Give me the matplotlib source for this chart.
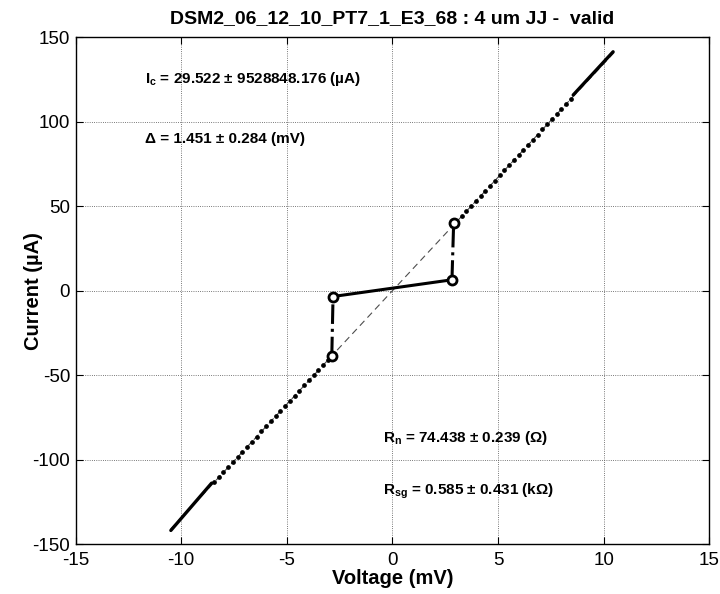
#!/usr/bin/env python3
"""IV curve of a Josephson junction"""
import matplotlib
matplotlib.use('Agg')
import matplotlib.pyplot as plt

plt.rcParams['font.family'] = ['Liberation Sans', 'DejaVu Sans']
plt.rcParams['mathtext.fontset'] = 'custom'
plt.rcParams['mathtext.rm'] = 'Liberation Sans'
plt.rcParams['mathtext.bf'] = 'Liberation Sans:bold'
plt.rcParams['axes.unicode_minus'] = False

# measured points, sparse part of the normal branches (mV, uA)
pos_v = [3.05, 3.28, 3.50, 3.73, 3.95, 4.18, 4.40, 4.63, 4.85, 5.08, 5.30,
         5.53, 5.75, 5.98, 6.20, 6.43, 6.65, 6.88, 7.10, 7.33, 7.55, 7.78,
         8.00, 8.23, 8.45]
pos_i = [41.0, 44.1, 47.1, 50.2, 53.1, 56.2, 59.2, 62.3, 65.2, 68.3, 71.3,
         74.4, 77.3, 80.4, 83.4, 86.5, 89.4, 92.5, 95.5, 98.6, 101.5, 104.6,
         107.6, 110.7, 113.7]
neg_v = [-8.45, -8.22, -8.00, -7.77, -7.55, -7.32, -7.10, -6.87, -6.65,
         -6.42, -6.20, -5.97, -5.75, -5.52, -5.30, -5.07, -4.85, -4.62,
         -4.40, -4.17, -3.95, -3.72, -3.50, -3.27, -3.05]
neg_i = [-113.5, -110.5, -107.4, -104.4, -101.4, -98.4, -95.4, -92.3, -89.3,
         -86.3, -83.3, -80.2, -77.2, -74.2, -71.2, -68.1, -65.1, -62.1,
         -59.1, -56.0, -53.0, -50.0, -47.0, -43.9, -40.9]

# dense high bias parts
hi_v = [8.56, 10.45]
hi_i = [115.9, 141.5]
lo_v = [-10.49, -8.56]
lo_i = [-141.9, -113.9]

# subgap branch and switching points
sub_v = [-2.81, 2.82]
sub_i = [-3.4, 6.5]
jump_lo_v = [-2.87, -2.81]
jump_lo_i = [-38.8, -3.4]
jump_hi_v = [2.82, 2.90]
jump_hi_i = [6.5, 40.1]
mark_v = [-2.87, -2.81, 2.82, 2.90]
mark_i = [-38.8, -3.4, 6.5, 40.1]

# normal resistance fit
fit_v = [-10.5, 10.5]
fit_i = [-141.1, 141.1]

fig = plt.figure(figsize=(7.2, 5.94), dpi=100)
ax = fig.add_axes([0.105, 0.084, 0.880, 0.853])

ax.plot(fit_v, fit_i, color='0.3', lw=0.8, ls=(0, (6, 4)))
ax.plot(pos_v, pos_i, ls='none', marker='o', ms=2.4, color='k')
ax.plot(neg_v, neg_i, ls='none', marker='o', ms=2.4, color='k')
ax.plot(hi_v, hi_i, color='k', lw=2.4, solid_capstyle='round')
ax.plot(lo_v, lo_i, color='k', lw=2.4, solid_capstyle='round')
ax.plot(sub_v, sub_i, color='k', lw=2.2)
ax.plot(jump_lo_v, jump_lo_i, color='k', lw=2.2, ls='-.')
ax.plot(jump_hi_v, jump_hi_i, color='k', lw=2.2, ls='-.')
ax.plot(mark_v, mark_i, ls='none', marker='o', ms=6.5, mfc='white',
        mec='k', mew=2)

ax.set_xlim(-15, 15)
ax.set_ylim(-150, 150)
ax.set_xticks(range(-15, 16, 5))
ax.set_yticks(range(-150, 151, 50))
ax.grid(True, color='0.3', ls=':', lw=0.6)
ax.tick_params(direction='in', top=True, right=True, labelsize=13.5,
               length=5)
ax.tick_params(axis='x', pad=6)
ax.tick_params(axis='y', pad=4)
for s in ax.spines.values():
    s.set_linewidth(1.0)

ax.set_title('DSM2_06_12_10_PT7_1_E3_68 : 4 um JJ -  valid',
             fontsize=14, fontweight='bold', pad=10)
ax.set_xlabel('Voltage (mV)', fontsize=14.5, fontweight='bold', labelpad=0)
ax.set_ylabel('Current (\u00b5A)', fontsize=14.5, fontweight='bold', labelpad=-8)

tkw = dict(fontsize=11, fontweight='bold', va='center', ha='left')
ax.text(-11.72, 125.3, '$\\mathbf{I_c}$ = 29.522 \u00b1 9528848.176 (\u00b5A)', **tkw)
ax.text(-11.72, 89.8, '\u0394 = 1.451 \u00b1 0.284 (mV)', **tkw)
ax.text(-0.45, -87, '$\\mathbf{R_n}$ = 74.438 \u00b1 0.239 (\u03a9)', **tkw)
ax.text(-0.45, -118.5, '$\\mathbf{R_{sg}}$ = 0.585 \u00b1 0.431 (k\u03a9)', **tkw)

fig.savefig('out.png', dpi=100)
